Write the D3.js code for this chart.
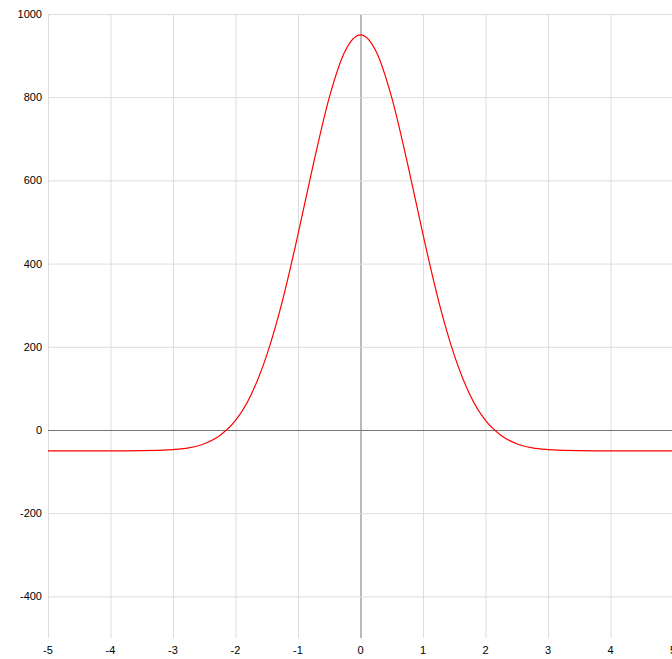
<!DOCTYPE html>
<html><head><meta charset="utf-8">
<script src="https://cdn.jsdelivr.net/npm/d3@7"></script>
<style>body{margin:0;background:#fff}text{font-family:"Liberation Sans",Arial,sans-serif;font-size:11px;fill:#000}</style>
</head><body><div id="container"></div>
<script>
var width=672,height=659
var margin={top:14,left:48,bottom:21,right:-1}
var g_w=width-margin.left-margin.right
var g_h=height-margin.top-margin.bottom

var xs=[-5,-4.5,-4,-3.5,-3,-2.75,-2.5,-2.25,-2,-1.75,-1.5,-1.25,-1,-0.75,-0.5,-0.25,0,0.25,0.5,0.75,1,1.25,1.5,1.75,2,2.25,2.5,2.75,3,3.5,4,4.5,5]
var ys=[-50,-50,-50,-49.8,-47,-43,-33,-13,23,85,180,310,470,642,799,910,950,910,799,642,470,310,180,85,23,-13,-33,-43,-47,-49.8,-50,-50,-50]
var xTicks=[-5,-4,-3,-2,-1,0,1,2,3,4,5]
var yTicks=[-400,-200,0,200,400,600,800,1000]

var svg=d3.select("#container").append("svg").attr('width',width).attr('height',height)
var g=svg.append('g').attr('transform','translate('+margin.left+','+margin.top+')')

var scalX=d3.scaleLinear().domain([-5,5]).range([0,g_w])
var scalY=d3.scaleLinear().domain([-500,1000]).range([g_h,0])

g.selectAll('.vx').data(xTicks).enter().append('line')
.attr('x1',d=>scalX(d)+0.5).attr('x2',d=>scalX(d)+0.5).attr('y1',0).attr('y2',g_h)
.attr('stroke',d=>d===0?'#777':'#ddd')
g.selectAll('.hy').data(yTicks).enter().append('line')
.attr('y1',d=>scalY(d)+0.5).attr('y2',d=>scalY(d)+0.5).attr('x1',0).attr('x2',g_w)
.attr('stroke',d=>d===0?'#777':'#ddd')

g.selectAll('.tx').data(xTicks).enter().append('text')
.attr('x',d=>scalX(d)).attr('y',g_h+16).attr('text-anchor','middle').text(d=>d)
g.selectAll('.ty').data(yTicks).enter().append('text')
.attr('x',-6).attr('y',d=>scalY(d)+4).attr('text-anchor','end').text(d=>d)

var liner_g=d3.line().x((d,i)=>scalX(xs[i])).y(d=>scalY(d)).curve(d3.curveMonotoneX)
g.append('path').attr('d',liner_g(ys)).attr('fill','none').attr('stroke','#f00').attr('stroke-width',1.2)
</script></body></html>
